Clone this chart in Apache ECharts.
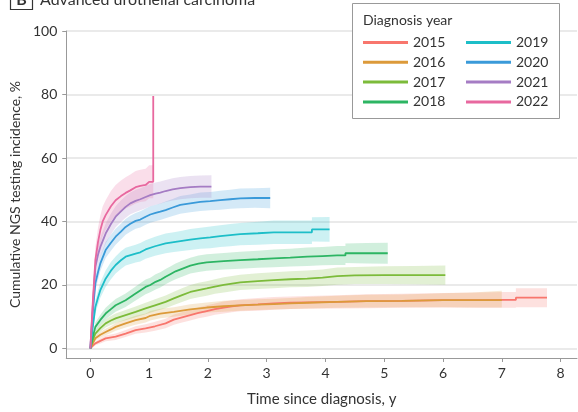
<!DOCTYPE html>
<html>
<head>
<meta charset="utf-8">
<script src="https://cdn.jsdelivr.net/npm/echarts@6/dist/echarts.min.js"></script>
<style>
html,body{margin:0;padding:0;background:#fff;}
#chart{width:578px;height:412px;}
</style>
</head>
<body>
<div id="chart"></div>
<script>
const years = ['2015','2016','2017','2018','2019','2020','2021','2022'];
const colors = ['#F8766D','#DC9A3A','#7CBB3A','#2DB563','#1DBEC8','#3A9AD9','#A57CC4','#E8689F'];
const xTicks = [0,1,2,3,4,5,6,7,8];
const yTicks = [0,20,40,60,80,100];

const t2015 = [0,0.04,0.085,0.17,0.26,0.43,0.6,0.77,0.94,1.1,1.28,1.42,1.56,1.7,1.84,1.98,2.12,2.27,2.41,2.55,2.85,3.12,3.4,3.69,4.2,4.7,5.3,6.0,6.6,7.05,7.24,7.24,7.77];
const v2015 = [0,0.8,1.6,2.4,3.2,3.7,4.7,5.8,6.3,7.0,7.9,9.1,9.8,10.5,11.2,11.8,12.4,12.9,13.3,13.6,13.9,14.2,14.4,14.5,14.7,14.9,15.0,15.2,15.2,15.3,15.3,16.0,16.0];
const lo2015 = [0,0.4,1.0,1.6,2.3,2.7,3.6,4.6,5.0,5.6,6.4,7.5,8.2,8.8,9.5,10.0,10.6,11.0,11.4,11.7,11.9,12.2,12.4,12.5,12.6,12.7,12.8,12.9,12.8,12.8,12.8,13.0,13.0];
const hi2015 = [0,1.2,2.2,3.2,4.1,4.7,5.8,7.0,7.6,8.4,9.4,10.7,11.4,12.2,12.9,13.6,14.2,14.8,15.2,15.5,15.9,16.2,16.4,16.5,16.8,17.1,17.2,17.5,17.6,17.8,17.8,19.0,19.0];

const t2016 = [0,0.04,0.085,0.17,0.26,0.35,0.43,0.6,0.77,0.94,1.02,1.19,1.42,1.7,1.98,2.27,2.55,2.85,3.12,3.4,3.69,4.2,4.7,5.3,6.0,6.5,7.0];
const v2016 = [0,1.5,3.2,4.3,5.2,6.0,6.8,7.9,8.9,9.6,10.3,11.0,11.5,12.3,12.9,13.3,13.6,13.8,14.0,14.2,14.4,14.7,14.9,15.0,15.2,15.2,15.2];
const lo2016 = [0,1.0,2.4,3.4,4.2,4.9,5.6,6.6,7.5,8.2,8.8,9.5,10.0,10.7,11.3,11.6,11.9,12.1,12.3,12.4,12.6,12.8,12.9,13.0,13.0,12.9,12.9];
const hi2016 = [0,2.0,4.0,5.2,6.2,7.1,8.0,9.2,10.3,11.0,11.8,12.5,13.0,13.9,14.5,15.0,15.3,15.5,15.7,15.9,16.2,16.6,16.9,17.0,17.4,17.6,18.2];

const t2017 = [0,0.04,0.085,0.17,0.26,0.35,0.43,0.6,0.77,0.94,1.1,1.28,1.42,1.56,1.7,1.84,1.98,2.12,2.27,2.41,2.55,2.85,3.12,3.4,3.69,3.95,4.2,4.5,5.0,5.5,6.04];
const v2017 = [0,2.5,4.7,6.4,7.9,8.8,9.5,10.5,11.5,12.6,13.6,14.7,15.8,16.8,17.8,18.4,18.9,19.5,20.0,20.4,20.8,21.2,21.5,21.8,22.0,22.3,22.8,23.0,23.1,23.1,23.1];
const lo2017 = [0,1.8,3.8,5.3,6.6,7.4,8.0,8.9,9.8,10.8,11.7,12.7,13.7,14.6,15.6,16.1,16.6,17.2,17.6,18.0,18.4,18.7,19.0,19.3,19.4,19.7,20.1,20.3,20.3,20.2,20.1];
const hi2017 = [0,3.2,5.6,7.5,9.2,10.2,11.0,12.1,13.2,14.4,15.5,16.7,17.9,19.0,20.0,20.7,21.2,21.8,22.4,22.8,23.2,23.7,24.0,24.3,24.6,24.9,25.5,25.7,25.9,26.0,26.1];

const t2018 = [0,0.04,0.085,0.17,0.26,0.35,0.43,0.6,0.77,0.94,1.02,1.11,1.19,1.28,1.36,1.45,1.56,1.7,1.84,1.98,2.27,2.55,2.85,3.12,3.4,3.69,3.95,4.2,4.34,4.34,4.7,5.06];
const v2018 = [0,3.5,6.8,9.0,11.0,12.4,13.6,15.2,17.3,19.4,20.0,21.0,21.6,22.6,23.4,24.3,25.1,26.1,26.7,27.1,27.5,27.8,28.1,28.4,28.6,28.9,29.1,29.3,29.3,30.0,30.0,30.0];
const lo2018 = [0,2.5,5.4,7.4,9.2,10.5,11.6,13.1,15.1,17.1,17.7,18.6,19.2,20.2,21.0,21.8,22.6,23.6,24.1,24.5,24.9,25.1,25.4,25.6,25.8,26.0,26.2,26.3,26.3,26.9,26.8,26.7];
const hi2018 = [0,4.5,8.2,10.6,12.8,14.3,15.6,17.3,19.5,21.7,22.3,23.4,24.0,25.0,25.8,26.8,27.6,28.6,29.3,29.7,30.1,30.5,30.8,31.2,31.4,31.8,32.0,32.3,32.3,33.1,33.2,33.3];

const t2019 = [0,0.04,0.085,0.13,0.17,0.26,0.35,0.43,0.52,0.6,0.77,0.85,0.94,1.1,1.28,1.42,1.56,1.7,1.87,2.04,2.21,2.38,2.55,2.85,3.12,3.4,3.77,3.77,4.07];
const v2019 = [0,6.5,13.1,16.0,18.4,22.0,24.5,26.3,27.8,28.9,29.9,30.3,31.2,32.2,33.1,33.5,33.9,34.3,34.7,35.0,35.4,35.7,36.0,36.3,36.6,36.6,36.6,37.5,37.5];
const lo2019 = [0,4.8,11.0,13.7,16.0,19.4,21.8,23.6,25.0,26.1,27.1,27.4,28.3,29.2,30.0,30.4,30.7,31.0,31.4,31.6,32.0,32.2,32.5,32.7,32.9,32.9,32.9,33.7,33.6];
const hi2019 = [0,8.2,15.2,18.3,20.8,24.6,27.2,29.0,30.6,31.7,32.7,33.2,34.1,35.2,36.2,36.6,37.1,37.6,38.0,38.4,38.8,39.2,39.5,39.9,40.3,40.3,40.3,41.3,41.4];

const t2020 = [0,0.04,0.085,0.13,0.17,0.26,0.35,0.43,0.52,0.6,0.68,0.77,0.85,0.94,1.02,1.11,1.19,1.28,1.4,1.53,1.7,1.87,2.04,2.21,2.38,2.55,2.8,3.06];
const v2020 = [0,11,20.5,24,26.8,31,33.3,35.2,36.8,38.3,39.3,40.2,40.6,41.5,42.2,42.7,43.1,43.6,44.4,45.2,45.7,46.2,46.4,46.7,47.0,47.3,47.4,47.4];
const lo2020 = [0,9,18.2,21.6,24.4,28.5,30.8,32.7,34.3,35.8,36.8,37.7,38.1,39.0,39.6,40.1,40.5,41.0,41.7,42.4,42.9,43.3,43.5,43.7,44.0,44.2,44.3,44.2];
const hi2020 = [0,13,22.8,26.4,29.2,33.5,35.8,37.7,39.3,40.8,41.8,42.7,43.2,44.1,44.8,45.3,45.7,46.3,47.1,48.0,48.5,49.1,49.3,49.7,50.0,50.4,50.5,50.6];

const t2021 = [0,0.04,0.085,0.13,0.17,0.26,0.35,0.43,0.52,0.6,0.68,0.77,0.85,0.94,1.02,1.11,1.19,1.28,1.4,1.53,1.7,1.87,2.06];
const v2021 = [0,13,25.7,29.5,32.0,36.2,39.2,41.5,43.2,44.6,45.7,46.5,47.0,47.7,48.3,48.8,49.1,49.6,50.1,50.5,50.8,51.0,51.0];
const lo2021 = [0,10.5,22.8,26.5,29.0,33.0,35.9,38.2,39.8,41.2,42.3,43.0,43.5,44.2,44.8,45.3,45.6,46.1,46.6,47.0,47.3,47.5,47.5];
const hi2021 = [0,15.5,28.6,32.5,35.0,39.4,42.5,44.8,46.6,48.0,49.1,50.0,50.5,51.2,51.8,52.3,52.6,53.1,53.6,54.0,54.3,54.5,54.6];

const t2022 = [0,0.04,0.085,0.13,0.17,0.21,0.26,0.35,0.43,0.52,0.6,0.68,0.77,0.85,0.94,1.0,1.07,1.07];
const v2022 = [0,14,27.8,33.5,37.3,40,42,44.8,46.7,48.0,49.0,49.8,50.8,51.2,51.5,52.5,52.5,79.5];
const lo2022 = [0,10.5,23.5,29.0,32.7,35.3,37.3,40.0,41.9,43.1,44.1,44.8,45.7,46.1,46.4,47.3,47.3,47.3];
const hi2022 = [0,17.5,32.0,38.0,41.9,44.7,46.7,49.6,51.5,52.9,53.9,54.8,55.9,56.3,56.6,57.7,57.7,57.7];

const T = [t2015,t2016,t2017,t2018,t2019,t2020,t2021,t2022];
const V = [v2015,v2016,v2017,v2018,v2019,v2020,v2021,v2022];
const LO = [lo2015,lo2016,lo2017,lo2018,lo2019,lo2020,lo2021,lo2022];
const HI = [hi2015,hi2016,hi2017,hi2018,hi2019,hi2020,hi2021,hi2022];

const FONT = 'Lato';
const series = [];
years.forEach((y, i) => {
  const t = T[i];
  series.push({
    name: y + ' CI', type: 'custom', silent: true, z: 1,
    data: t.map((x, k) => [x, LO[i][k], HI[i][k]]),
    encode: {x: 0, y: [1, 2]},
    renderItem: function (params, api) {
      if (params.dataIndex !== 0) return null;
      const up = [], dn = [];
      for (let k = 0; k < t.length; k++) {
        up.push(api.coord([t[k], HI[i][k]]));
        dn.push(api.coord([t[k], LO[i][k]]));
      }
      const pts = up.concat(dn.reverse());
      return {
        type: 'polygon',
        shape: {points: pts},
        style: {fill: colors[i], opacity: 0.22},
        clipPath: {type: 'rect', shape: {x: params.coordSys.x, y: params.coordSys.y, width: params.coordSys.width, height: params.coordSys.height}}
      };
    }
  });
});
years.forEach((y, i) => {
  const t = T[i];
  series.push({
    name: y, type: 'line', symbol: 'none', z: 3,
    color: colors[i],
    lineStyle: {width: 1.8, color: colors[i]},
    data: t.map((x, k) => [x, V[i][k]])
  });
});

const chart = echarts.init(document.getElementById('chart'), null, {renderer: 'canvas'});
const legendCommon = {
  orient: 'vertical', icon: 'rect', itemWidth: 45, itemHeight: 3, itemGap: 5.8,
  textStyle: {fontFamily: FONT, fontSize: 14, color: '#333'}, selectedMode: false, padding: 0, z: 10
};
chart.setOption({
  animation: false,
  textStyle: {fontFamily: FONT},
  grid: {left: 66, right: 1, top: 31, bottom: 54, containLabel: false},
  xAxis: {
    type: 'value', min: -0.41, max: 8.28,
    name: 'Time since diagnosis, y', nameLocation: 'middle', nameGap: 34,
    nameTextStyle: {fontFamily: FONT, fontSize: 15, color: '#333'},
    axisLine: {show: true, onZero: false, lineStyle: {color: '#999', width: 1}},
    axisTick: {show: true, length: 4, lineStyle: {color: '#999'}, customValues: xTicks},
    axisLabel: {fontFamily: FONT, fontSize: 14, color: '#333', margin: 8, customValues: xTicks},
    splitLine: {show: false}
  },
  yAxis: {
    type: 'value', min: -3, max: 100,
    name: 'Cumulative NGS testing incidence, %', nameLocation: 'middle', nameGap: 32,
    nameTextStyle: {fontFamily: FONT, fontSize: 14, color: '#333'},
    axisLine: {show: true, onZero: false, lineStyle: {color: '#999', width: 1}},
    axisTick: {show: true, length: 4, lineStyle: {color: '#999'}, customValues: yTicks},
    axisLabel: {fontFamily: FONT, fontSize: 14, color: '#333', margin: 9, customValues: yTicks},
    splitLine: {show: true, lineStyle: {color: '#e3e3e3', width: 1.5}}
  },
  legend: [
    Object.assign({left: 363, top: 35.5, data: years.slice(0, 4)}, legendCommon),
    Object.assign({left: 466, top: 35.5, data: years.slice(4)}, legendCommon)
  ],
  graphic: [
    {type: 'rect', z: 5, shape: {x: 352.5, y: 3.5, width: 207, height: 115},
      style: {fill: '#fff', stroke: '#999', lineWidth: 1}},
    {type: 'text', z: 11, x: 363, y: 20.7,
      style: {text: 'Diagnosis year', fontFamily: FONT, fontSize: 14, fill: '#333', verticalAlign: 'middle'}},
    {type: 'rect', z: 11, shape: {x: 10.5, y: -14, width: 22, height: 23.5},
      style: {fill: '#fff', stroke: '#333', lineWidth: 1.2}},
    {type: 'text', z: 12, x: 21.5, y: 8,
      style: {text: 'B', fontFamily: FONT, fontSize: 16, fontWeight: 'bold', fill: '#333', align: 'center', verticalAlign: 'bottom'}},
    {type: 'text', z: 12, x: 40, y: 8,
      style: {text: 'Advanced urothelial carcinoma', fontFamily: FONT, fontSize: 16, fill: '#333', verticalAlign: 'bottom'}}
  ],
  series: series
});
</script>
</body>
</html>
